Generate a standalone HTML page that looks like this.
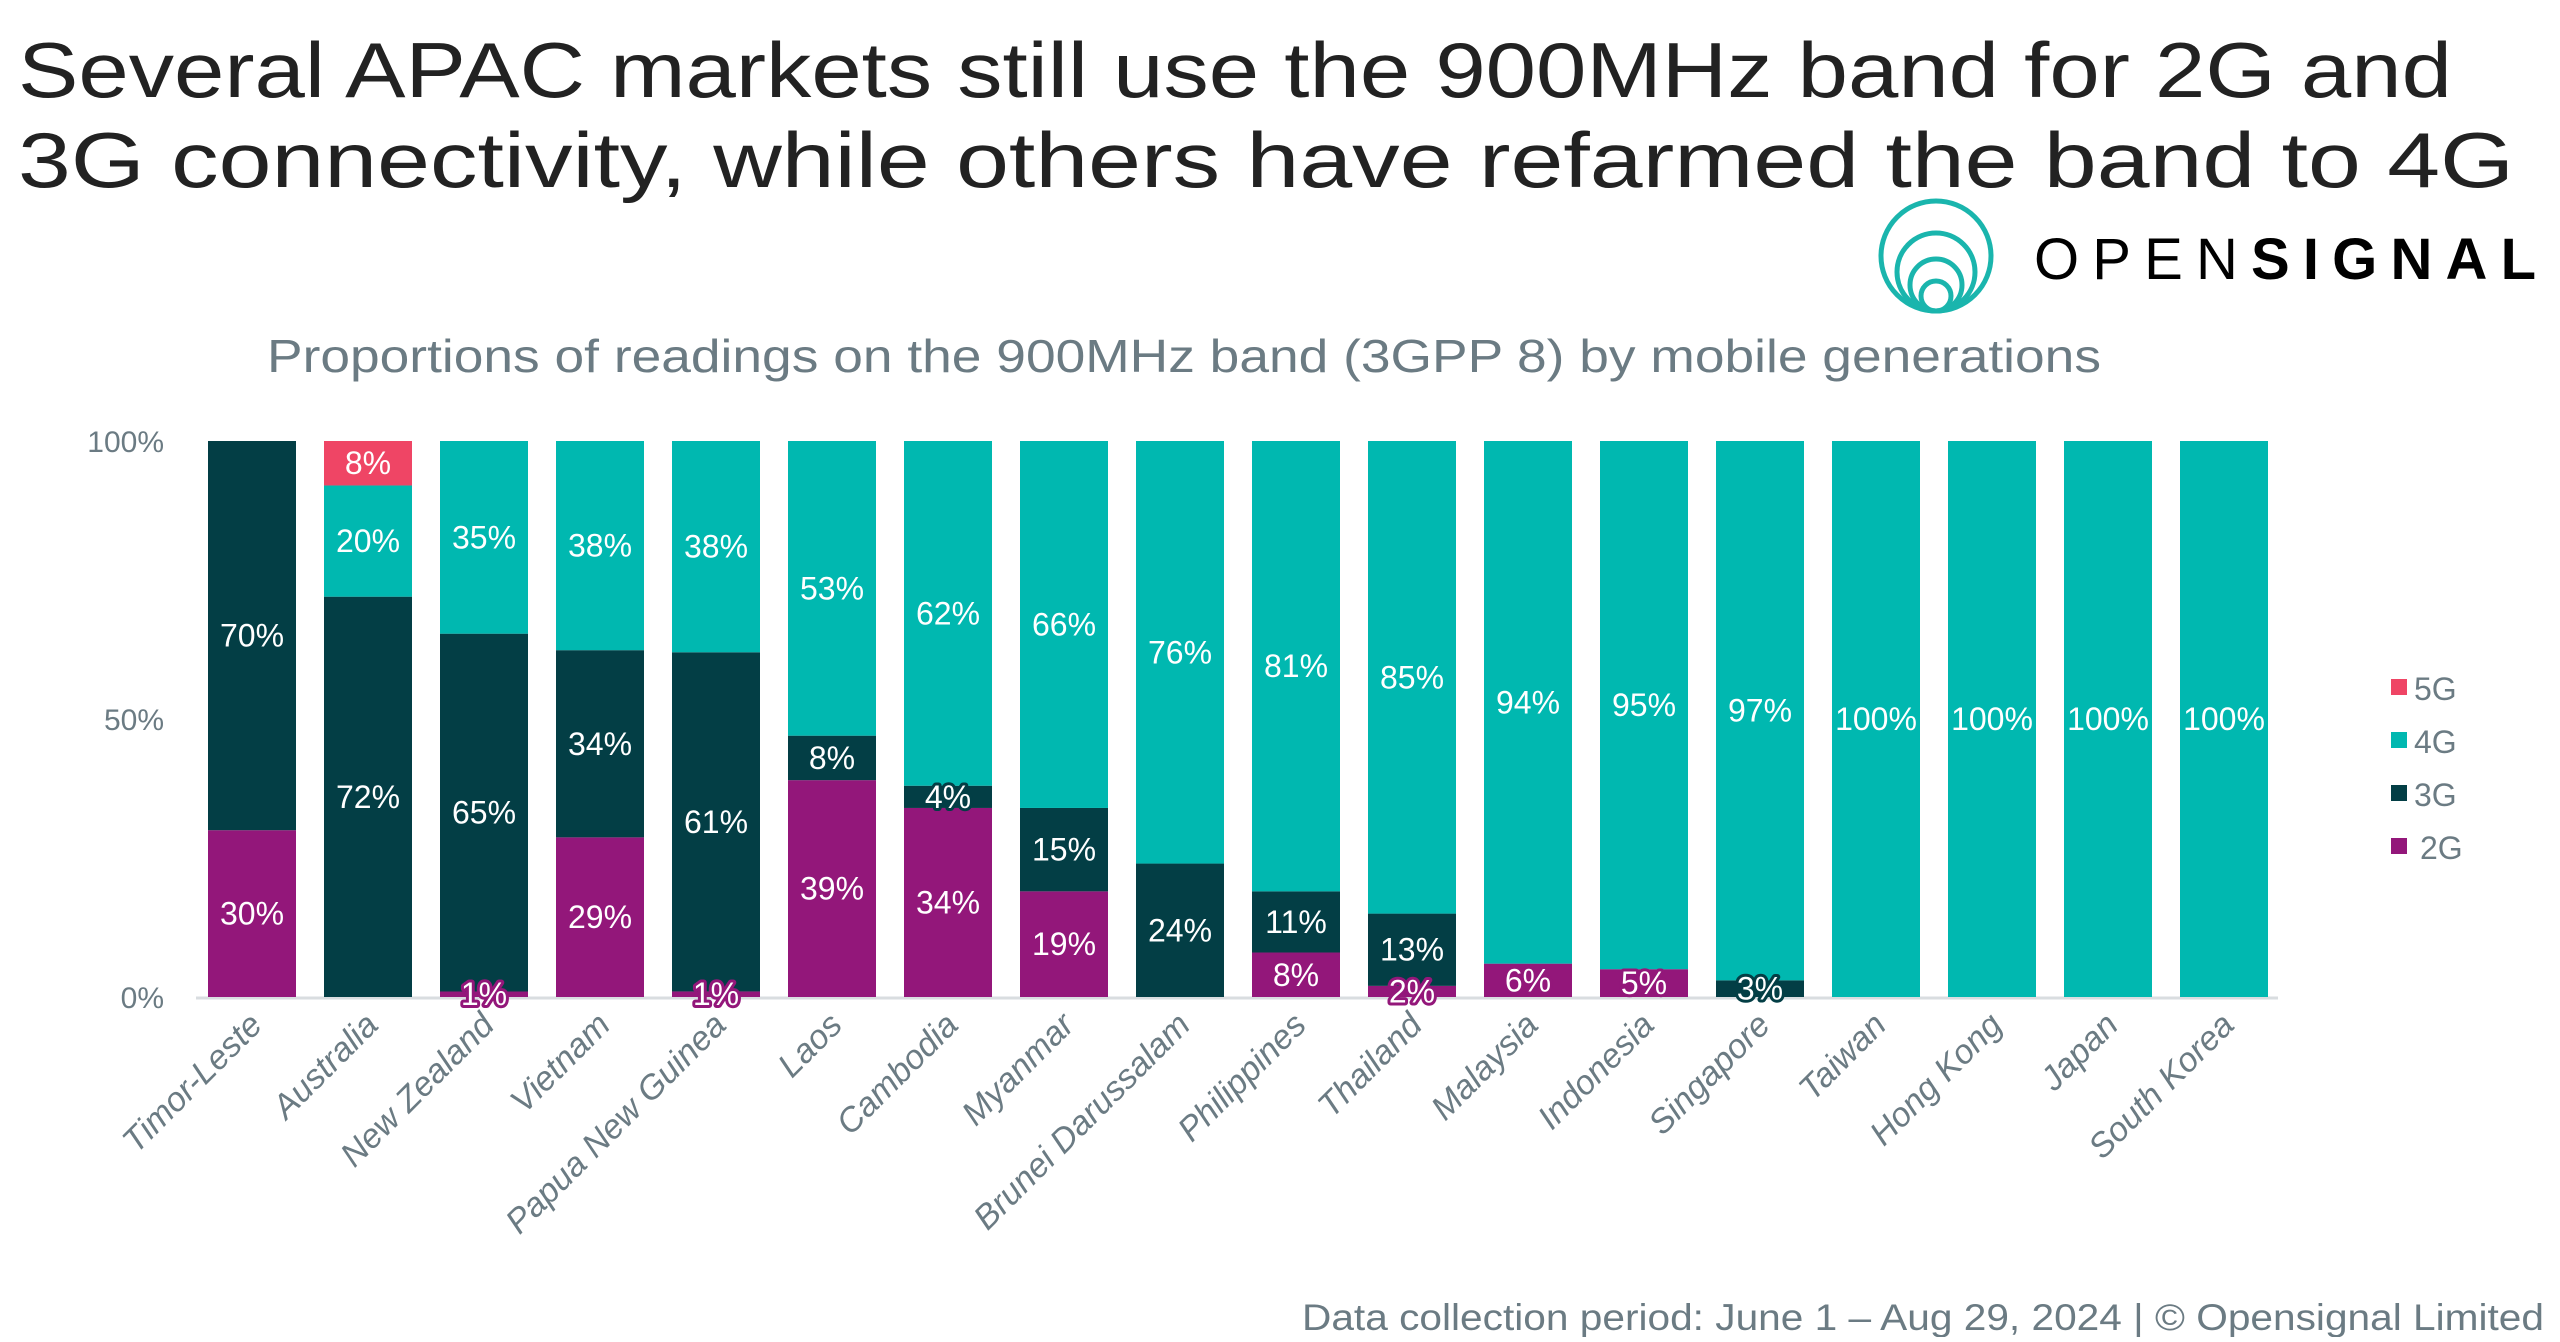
<!DOCTYPE html>
<html><head><meta charset="utf-8"><style>
html,body{margin:0;padding:0;background:#fff;}
body{width:2560px;height:1337px;overflow:hidden;position:relative;font-family:"Liberation Sans","DejaVu Sans",sans-serif;}
</style></head><body>
<svg id="chart" width="2560" height="1337" viewBox="0 0 2560 1337" xmlns="http://www.w3.org/2000/svg" font-family="Liberation Sans, DejaVu Sans, sans-serif">
<text x="18" y="97" font-size="78" fill="#222" textLength="2434" lengthAdjust="spacingAndGlyphs">Several APAC markets still use the 900MHz band for 2G and</text>
<text x="18" y="187" font-size="78" fill="#222" textLength="2496" lengthAdjust="spacingAndGlyphs">3G connectivity, while others have refarmed the band to 4G</text>
<g fill="none" stroke="#1ab5ad" stroke-width="5">
<circle cx="1936" cy="256" r="55"/><circle cx="1936" cy="272" r="39"/><circle cx="1936" cy="285" r="26"/><circle cx="1936" cy="296" r="15"/>
</g>
<text x="2034" y="279" font-size="58" fill="#000" textLength="502" lengthAdjust="spacing"><tspan>OPEN</tspan><tspan font-weight="bold">SIGNAL</tspan></text>
<text x="267" y="372" font-size="46" fill="#6b7b83" textLength="1834" lengthAdjust="spacingAndGlyphs">Proportions of readings on the 900MHz band (3GPP 8) by mobile generations</text>
<g id="plot"></g>
<text x="1302" y="1330" font-size="37" fill="#6b7b83" textLength="1242" lengthAdjust="spacingAndGlyphs">Data collection period: June 1 – Aug 29, 2024 | © Opensignal Limited</text>
</svg>
<script>
const categories=["Timor-Leste","Australia","New Zealand","Vietnam","Papua New Guinea","Laos","Cambodia","Myanmar","Brunei Darussalam","Philippines","Thailand","Malaysia","Indonesia","Singapore","Taiwan","Hong Kong","Japan","South Korea"];
const g2=[30,0,1,29,1,39,34,19,0,8,2,6,5,0,0,0,0,0];
const g3=[70,72,65,34,61,8,4,15,24,11,13,0,0,3,0,0,0,0];
const g4=[0,20,35,38,38,53,62,66,76,81,85,94,95,97,100,100,100,100];
const g5=[0,8,0,0,0,0,0,0,0,0,0,0,0,0,0,0,0,0];
const yTicks=[0,50,100];
const seriesNames=["2G","3G","4G","5G"];
const legendOrder=["5G","4G","3G","2G"];

const NS="http://www.w3.org/2000/svg";
const colors={"2G":"#93177a","3G":"#033e45","4G":"#00b8b0","5G":"#ef4565"};
const X0=208,STEP=116,BW=88,YT=441,YB=997;
const y=v=>YB-(YB-YT)*v/100;
const xb=i=>X0+i*STEP;
const plot=document.getElementById('plot');
function mk(tag,attrs,parent){const e=document.createElementNS(NS,tag);for(const k in attrs)e.setAttribute(k,attrs[k]);(parent||plot).appendChild(e);return e;}

yTicks.forEach(t=>{
  const e=mk('text',{x:164,y:y(t)+11,'font-size':30,fill:'#6b7b83','text-anchor':'end'});
  
  
  e.textContent=t+'%';
});
const ax=mk('line',{x1:196,x2:2278,y1:YB+1,y2:YB+1,stroke:'#d9dde0','stroke-width':3});



const data={"2G":g2,"3G":g3,"4G":g4,"5G":g5};
const labels=[];
categories.forEach((c,i)=>{
  const tot=g2[i]+g3[i]+g4[i]+g5[i];
  let acc=0;
  seriesNames.forEach(s=>{
    const v=data[s][i];
    if(v<=0)return;
    const v0=acc/tot*100,v1=(acc+v)/tot*100;acc+=v;
    const r=mk('rect',{x:xb(i),y:y(v1),width:BW,height:y(v0)-y(v1),fill:colors[s]});
    
    
    labels.push({x:xb(i)+BW/2,y:(y(v0)+y(v1))/2,v:v,s:s,c:c});
  });
  const lx=xb(i)+BW/2+12,ly=YB+30;
  const t=mk('text',{x:lx,y:ly,'font-size':34,'font-style':'italic',fill:'#6b7b83','text-anchor':'end',transform:`rotate(-45 ${lx} ${ly})`});
  
  
  t.textContent=c;
});
labels.forEach(l=>{
  const small=l.v<7;
  const attrs={x:l.x,y:l.y+11,'font-size':32,fill:'#fff','text-anchor':'middle'};
  if(small){attrs.stroke=colors[l.s];attrs['stroke-width']=6;attrs['paint-order']='stroke';attrs['stroke-linejoin']='round';}
  const t=mk('text',attrs);
  
  
  t.textContent=l.v+'%';
});
legendOrder.forEach((s,k)=>{
  const ly=688+k*53;
  const r=mk('rect',{x:2391,y:ly-9,width:16,height:16,fill:colors[s]});
  
  
  const t=mk('text',{x:s==="2G"?2420:2414,y:ly+12,'font-size':32,fill:'#6b7b83'});
  
  
  t.textContent=s;
});
</script>
</body></html>
